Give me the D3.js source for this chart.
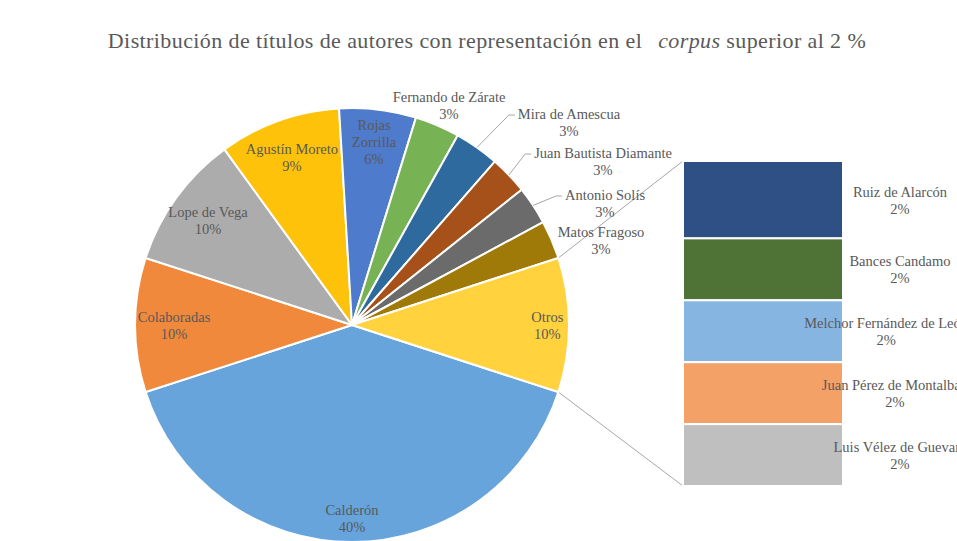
<!DOCTYPE html>
<html>
<head>
<meta charset="utf-8">
<script src="https://cdn.jsdelivr.net/npm/d3@7"></script>
<style>
  body { margin: 0; background: #fff; }
  svg, svg text { font-family: "Liberation Serif", "Times New Roman", "DejaVu Serif", serif; }
</style>
</head>
<body>
<svg id="grafico"></svg>
<script>
const WIDTH = 957,
    HEIGHT = 541;

// porciones de la tarta (sin "Otros", que sale de la barra)
const autores = ["Calderón", "Colaboradas", "Lope de Vega", "Agustín Moreto", "Rojas Zorrilla",
    "Fernando de Zárate", "Mira de Amescua", "Juan Bautista Diamante", "Antonio Solís", "Matos Fragoso"];
const titulos = [84, 21, 21, 19, 12, 7, 7, 6, 6, 6];
const coloresTarta = ["#66a4db", "#f0893b", "#acacac", "#ffc20a", "#4e7bcb",
    "#77b255", "#2e6a9e", "#a7511a", "#6b6b6b", "#a07a08"];

// desglose de "Otros" en la barra
const autoresOtros = ["Ruiz de Alarcón", "Bances Candamo", "Melchor Fernández de León",
    "Juan Pérez de Montalbán", "Luis Vélez de Guevara"];
const titulosOtros = [5, 4, 4, 4, 4];
const coloresOtros = ["#2f5085", "#4f7337", "#87b5e2", "#f3a167", "#bfbfbf"];
const colorOtros = "#ffd23e";

const TEXTO = "#595959";
const FUENTE = "Liberation Serif, Times New Roman, DejaVu Serif, serif";
const fmt = d3.format(".0%");

const centro = {x: 352, y: 325};
const radio = 217;
const barra = {x0: 683, x1: 843, y0: 161, y1: 486};

// etiquetas fuera de la tarta (centro del primer renglón) y si llevan guía
const etiquetasFuera = {
    "Fernando de Zárate": {x: 449, y: 97, guia: false},
    "Mira de Amescua": {x: 569, y: 114, guia: true},
    "Juan Bautista Diamante": {x: 603, y: 153, guia: true},
    "Antonio Solís": {x: 605, y: 195, guia: true},
    "Matos Fragoso": {x: 601, y: 232, guia: false}
};
const radioEtiqueta = {"Calderón": 0.89, "Otros": 0.9, "Rojas Zorrilla": 0.85};
const renglones = {"Rojas Zorrilla": ["Rojas", "Zorrilla"]};

const visualizacion = () => {
    const svg = d3.select("#grafico")
        .attr("width", WIDTH)
        .attr("height", HEIGHT)
        .attr("font-family", FUENTE);

    svg.append("rect").attr("width", WIDTH).attr("height", HEIGHT).attr("fill", "#fff");

    // titulo
    const titulo = svg.append("text")
        .attr("x", 487)
        .attr("y", 48)
        .attr("text-anchor", "middle")
        .attr("fill", TEXTO)
        .attr("font-family", FUENTE)
        .attr("font-size", 22)
        .attr("letter-spacing", 0.4);
    titulo.append("tspan").text("Distribución de títulos de autores con representación en el");
    titulo.append("tspan").attr("dx", 16).attr("font-style", "italic").text("corpus");
    titulo.append("tspan").text(" superior al 2 %");

    const totalOtros = d3.sum(titulosOtros);
    const datos = autores.map((a, i) => ({nombre: a, valor: titulos[i], color: coloresTarta[i]}));
    datos.push({nombre: "Otros", valor: totalOtros, color: colorOtros});
    const total = d3.sum(datos, d => d.valor);

    // "Otros" centrado a las 3 en punto
    const inicio = Math.PI / 2 + Math.PI * totalOtros / total;
    const pie = d3.pie()
        .sort(null)
        .value(d => d.valor)
        .startAngle(inicio)
        .endAngle(inicio + 2 * Math.PI);
    const porciones = pie(datos);

    const arco = d3.arc().innerRadius(0).outerRadius(radio);
    const punto = (ang, r) => [centro.x + r * Math.sin(ang), centro.y - r * Math.cos(ang)];

    // lineas de union con la barra
    const otros = porciones[porciones.length - 1];
    const unir = [
        [punto(otros.startAngle, radio), [barra.x0, barra.y0]],
        [punto(otros.endAngle, radio), [barra.x0, barra.y1]]
    ];
    svg.append("g")
        .selectAll("line")
        .data(unir)
        .join("line")
        .attr("x1", d => d[0][0]).attr("y1", d => d[0][1])
        .attr("x2", d => d[1][0]).attr("y2", d => d[1][1])
        .attr("stroke", "#a6a6a6")
        .attr("stroke-width", 1);

    const contenedorTarta = svg.append("g")
        .attr("transform", `translate(${centro.x} ${centro.y})`);

    contenedorTarta.selectAll("path")
        .data(porciones)
        .join("path")
        .attr("d", arco)
        .attr("fill", d => d.data.color)
        .attr("stroke", "#fff")
        .attr("stroke-width", 2)
        .attr("stroke-linejoin", "round");

    // etiquetas de la tarta
    const contenedorEtiquetas = svg.append("g")
        .attr("fill", TEXTO)
        .attr("font-family", FUENTE)
        .attr("font-size", 14.5)
        .attr("text-anchor", "middle");

    porciones.forEach(p => {
        const nombre = p.data.nombre;
        const lineas = (renglones[nombre] || [nombre]).concat([fmt(p.data.valor / total)]);
        const fuera = etiquetasFuera[nombre];
        let x, y;
        if (fuera) {
            x = fuera.x;
            y = fuera.y;
        } else {
            const medio = (p.startAngle + p.endAngle) / 2;
            const [px, py] = punto(medio, radio * (radioEtiqueta[nombre] || 0.82));
            x = px;
            y = py - (lineas.length - 1) * 17 / 2;
        }
        const texto = contenedorEtiquetas.append("text");
        lineas.forEach((l, i) => {
            texto.append("tspan")
                .attr("x", x)
                .attr("y", y + 5 + i * 17)
                .text(l);
        });
        if (fuera && fuera.guia) {
            const ancho = texto.select("tspan").node().getComputedTextLength();
            const xi = x - ancho / 2 - 3;
            const medio = (p.startAngle + p.endAngle) / 2;
            const [rx, ry] = punto(medio, radio);
            contenedorEtiquetas.append("polyline")
                .attr("points", `${xi},${y + 1} ${xi - 6},${y + 1} ${rx},${ry}`)
                .attr("fill", "none")
                .attr("stroke", "#a6a6a6")
                .attr("stroke-width", 1);
        }
    });

    // barra de "Otros"
    const escalaBarra = d3.scaleLinear()
        .domain([0, totalOtros])
        .range([barra.y0, barra.y1]);

    const acumulado = d3.cumsum(titulosOtros);
    const segmentos = autoresOtros.map((a, i) => ({
        nombre: a,
        valor: titulosOtros[i],
        color: coloresOtros[i],
        desde: acumulado[i] - titulosOtros[i],
        hasta: acumulado[i]
    }));

    svg.append("g")
        .selectAll("rect")
        .data(segmentos)
        .join("rect")
        .attr("x", barra.x0)
        .attr("width", barra.x1 - barra.x0)
        .attr("y", d => escalaBarra(d.desde))
        .attr("height", d => escalaBarra(d.hasta) - escalaBarra(d.desde))
        .attr("fill", d => d.color)
        .attr("stroke", "#fff")
        .attr("stroke-width", 2);

    const etiquetasBarra = svg.append("g")
        .attr("fill", TEXTO)
        .attr("font-family", FUENTE)
        .attr("font-size", 14.5)
        .attr("text-anchor", "middle");

    segmentos.forEach(s => {
        const yc = (escalaBarra(s.desde) + escalaBarra(s.hasta)) / 2;
        const texto = etiquetasBarra.append("text");
        const t1 = texto.append("tspan").attr("y", yc - 3).text(s.nombre);
        const t2 = texto.append("tspan").attr("y", yc + 14).text(fmt(s.valor / total));
        const ancho = t1.node().getComputedTextLength();
        const x = Math.min(900, 968 - ancho / 2);
        t1.attr("x", x);
        t2.attr("x", x);
    });
};

visualizacion();
</script>
</body>
</html>
